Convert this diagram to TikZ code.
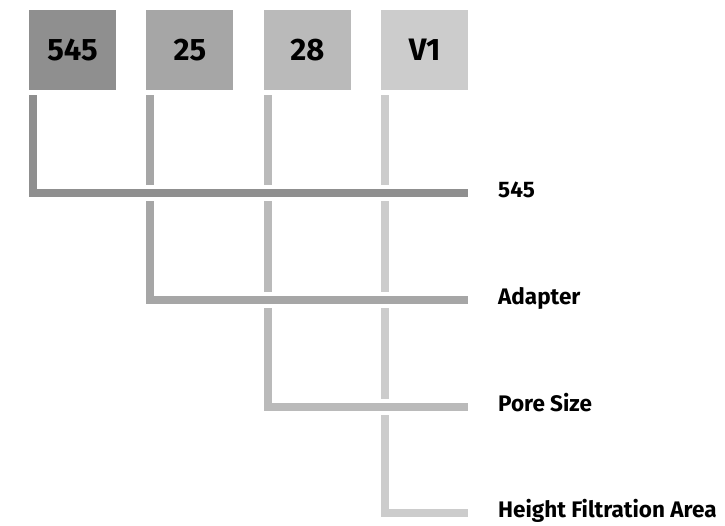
\documentclass[tikz,border=0pt]{standalone}
\usepackage{fontspec}
\setmainfont{Fira Sans}
\usepackage{xcolor}
\usetikzlibrary{positioning}

\definecolor{grA}{HTML}{8F8F8F}
\definecolor{grB}{HTML}{A6A6A6}
\definecolor{grC}{HTML}{BABABA}
\definecolor{grD}{HTML}{CCCCCC}

\begin{document}
\begin{tikzpicture}[
  x=1pt, y=-1pt,
  node distance=30pt,
  code/.style={inner sep=0pt, minimum width=87pt, minimum height=80pt,
    font=\fontsize{31}{32}\selectfont\bfseries},
  lbl/.style={anchor=base west, inner sep=0pt, font=\fontsize{22.5}{24}\selectfont\bfseries},
  link/.style={draw=white, line width=4pt, double distance=8pt, line cap=butt},
]
\useasboundingbox (0,0) rectangle (725,525);

\node[code, fill=grA] (k545) at (72.5,50) {545};
\node[code, fill=grB, right=of k545] (k25) {25};
\node[code, fill=grC, right=of k25] (k28) {28};
\node[code, fill=grD, right=of k28] (kV1) {V1};

\node[lbl] (lSeries) at (498,197) {545};
\node[lbl] (lAdapt)  at (498,304) {Adapter};
\node[lbl] (lPore)   at (498,411) {Pore Size};
\node[lbl] (lHeight) at (498,517) {Height Filtration Area};

% connectors, last one first so the upper bars sit on top
\draw[link, double=grD] ([xshift=4pt,yshift=-5pt]kV1.south west) |- ([xshift=-30pt,yshift=4pt]lHeight.base west);
\draw[link, double=grC] ([xshift=4pt,yshift=-5pt]k28.south west) |- ([xshift=-30pt,yshift=4pt]lPore.base west);
\draw[link, double=grB] ([xshift=4pt,yshift=-5pt]k25.south west) |- ([xshift=-30pt,yshift=4pt]lAdapt.base west);
\draw[link, double=grA] ([xshift=4pt,yshift=-5pt]k545.south west) |- ([xshift=-30pt,yshift=4pt]lSeries.base west);
\end{tikzpicture}
\end{document}
